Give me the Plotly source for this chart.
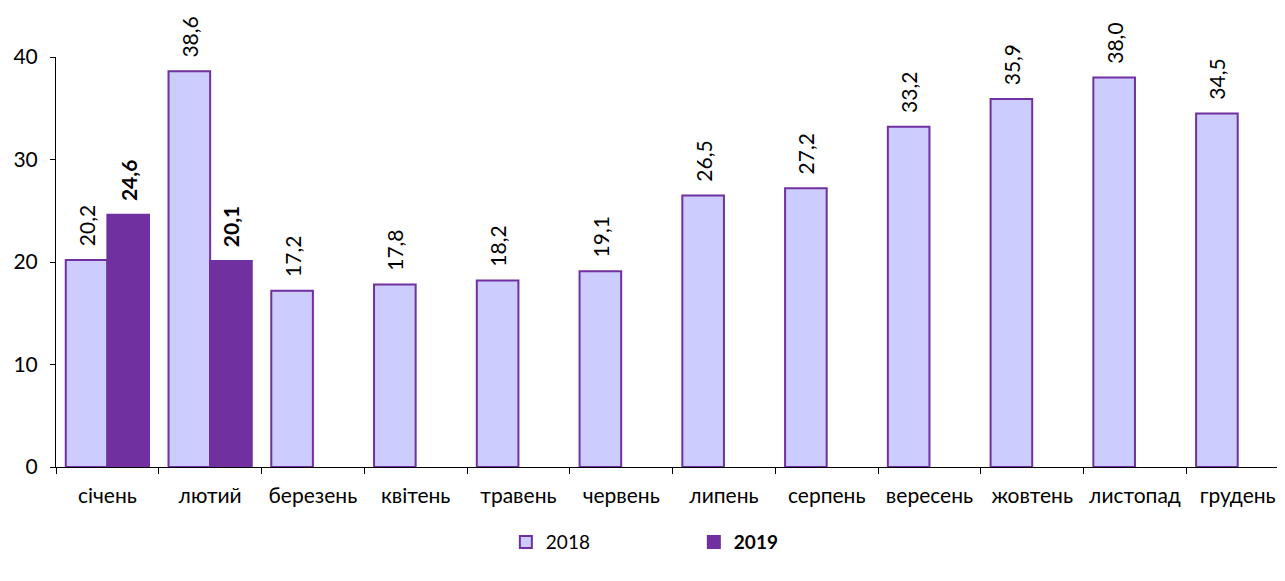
import plotly.graph_objects as go

months = ["січень", "лютий", "березень", "квітень", "травень", "червень",
          "липень", "серпень", "вересень", "жовтень", "листопад", "грудень"]
v2018 = [20.2, 38.6, 17.2, 17.8, 18.2, 19.1, 26.5, 27.2, 33.2, 35.9, 38.0, 34.5]
v2019 = [24.6, 20.1, None, None, None, None, None, None, None, None, None, None]
y_ticks = [0, 10, 20, 30, 40]

FONT = "Lato, Open Sans, sans-serif"
PURPLE = "#7030A0"
LIGHT = "#CCCCFF"
PAD = "\u00a0\u00a0"

fig = go.Figure()
fig.add_trace(go.Bar(
    x=months, y=v2018, name="2018",
    marker=dict(color=LIGHT, line=dict(color=PURPLE, width=2)),
    texttemplate=PAD + "%{y:.1f}", textposition="outside", textangle=-90,
    constraintext="none",
    textfont=dict(size=21, color="#000000", family=FONT),
    cliponaxis=False,
))
fig.add_trace(go.Bar(
    x=months, y=v2019, name="<b>2019</b>",
    marker=dict(color=PURPLE, line=dict(color=PURPLE, width=2)),
    texttemplate=PAD + "<b>%{y:.1f}</b>", textposition="outside", textangle=-90,
    constraintext="none",
    textfont=dict(size=21, color="#000000", family=FONT),
    cliponaxis=False,
))

fig.update_layout(
    width=1285, height=581,
    margin=dict(l=48, r=8, t=49, b=122, autoexpand=False),
    plot_bgcolor="white", paper_bgcolor="white",
    barmode="group", bargap=0.19, bargroupgap=0,
    separators=",.",
    font=dict(family=FONT, size=21, color="#000000"),
    showlegend=True,
    legend=dict(orientation="h", x=0.519, xanchor="center", y=-0.183, yanchor="middle",
                entrywidth=143, font=dict(size=19), traceorder="normal"),
    xaxis=dict(range=[-0.5, 11.46], showline=True, linecolor="#000000", linewidth=1,
               ticks="outside", tickson="boundaries", ticklen=6, tickcolor="#000000",
               showgrid=False, tickfont=dict(size=21), automargin=False,
               tickangle=0, ticklabelstandoff=10),
    yaxis=dict(range=[0, 40], tickvals=y_ticks, showline=True, linecolor="#000000",
               linewidth=1, ticks="outside", ticklen=5, tickcolor="#000000",
               showgrid=False, zeroline=False, tickfont=dict(size=21), automargin=False,
               ticklabelstandoff=8),
)

fig.write_html("out.html")
